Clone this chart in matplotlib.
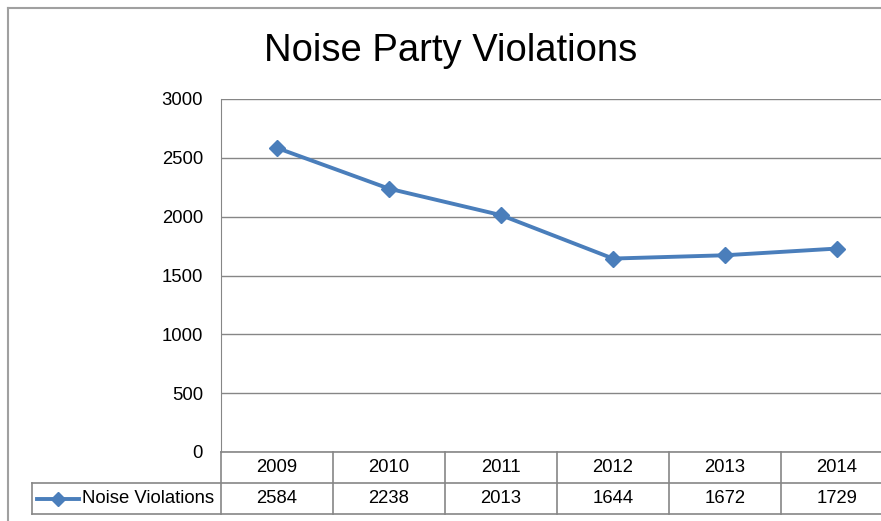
import matplotlib.pyplot as plt
from matplotlib.lines import Line2D
from matplotlib.transforms import blended_transform_factory

years = ['2009', '2010', '2011', '2012', '2013', '2014']
violations = [2584, 2238, 2013, 1644, 1672, 1729]
series_name = 'Noise Violations'
title = 'Noise Party Violations'

plt.rcParams['font.family'] = ['Liberation Sans', 'DejaVu Sans']

W, H = 881, 521
fig = plt.figure(figsize=(W / 100, H / 100), dpi=100)

# plot area in pixels (runs past the right edge of the canvas)
left, right, top, bottom = 221, 893, 99, 452
ax = fig.add_axes([left / W, 1 - bottom / H, (right - left) / W, (bottom - top) / H])

blue = '#4a7ebb'
grid = '#868686'
fs = 13.3

x = list(range(len(years)))
ax.plot(x, violations, color=blue, lw=2.8, marker='D', ms=8.5,
        markeredgecolor=blue, zorder=3)

ax.set_xlim(-0.5, len(years) - 0.5)
ax.set_ylim(0, 3000)
ax.set_yticks(range(0, 3001, 500))
ax.set_xticks([])
ax.tick_params(axis='y', length=0, labelsize=fs, pad=13)
ax.yaxis.grid(True, color=grid, lw=1)
ax.set_axisbelow(True)
for side in ['top', 'right', 'bottom']:
    ax.spines[side].set_visible(False)
ax.spines['left'].set_color(grid)

# data table under the plot
row_h = 31 / (bottom - top)
tr = blended_transform_factory(ax.transData, ax.transAxes)
lab_left = (32 - left) / (right - left)

line_kw = dict(color=grid, lw=1.2, clip_on=False)
ax.plot([-0.5, 5.5], [0, 0], transform=tr, **line_kw)
ax.plot([lab_left, 1], [-row_h, -row_h], transform=ax.transAxes, **line_kw)
ax.plot([lab_left, 1], [-2 * row_h, -2 * row_h], transform=ax.transAxes, **line_kw)
ax.plot([lab_left, lab_left], [-row_h, -2 * row_h], transform=ax.transAxes, **line_kw)
for b in range(len(years) + 1):
    ax.plot([b - 0.5, b - 0.5], [0, -2 * row_h], transform=tr, **line_kw)

for i, (yr, v) in enumerate(zip(years, violations)):
    ax.text(i, -row_h / 2, yr, transform=tr, ha='center', va='center', fontsize=fs)
    ax.text(i, -1.5 * row_h, str(v), transform=tr, ha='center', va='center', fontsize=fs)

# legend key in the label cell
lx0 = (37 - left) / (right - left)
lx1 = (79 - left) / (right - left)
ax.add_line(Line2D([lx0, lx1], [-1.5 * row_h] * 2, transform=ax.transAxes,
                   color=blue, lw=2.8, clip_on=False))
ax.add_line(Line2D([(lx0 + lx1) / 2], [-1.5 * row_h], transform=ax.transAxes,
                   color=blue, marker='D', ms=7, clip_on=False))
ax.text((82 - left) / (right - left), -1.5 * row_h, series_name,
        transform=ax.transAxes, ha='left', va='center', fontsize=fs)

fig.text(451 / W, 1 - 51 / H, title, ha='center', va='center', fontsize=27.5)

# chart border (cut by the canvas on the right and bottom)
fig.add_artist(Line2D([8 / W, 1], [1 - 8 / H] * 2, color='#a0a0a0', lw=1.5))
fig.add_artist(Line2D([8 / W] * 2, [0, 1 - 8 / H], color='#a0a0a0', lw=1.5))

fig.savefig('out.png', dpi=100)
